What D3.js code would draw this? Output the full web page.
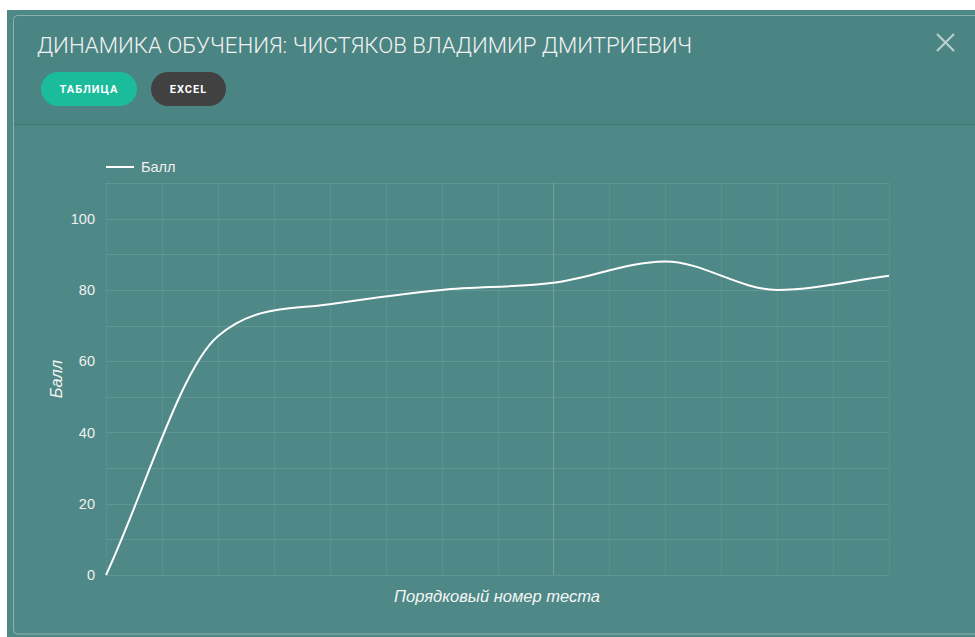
<!DOCTYPE html>
<html>
<head>
<meta charset="utf-8">
<script src="https://cdn.jsdelivr.net/npm/d3@7"></script>
<style>
  html, body { margin: 0; padding: 0; background: #fff; }
  svg { display: block; }
  .tick text { font-family: "Liberation Sans", Arial, sans-serif; }
</style>
</head>
<body>
<div id="chart"></div>
<script>
// data
const title = "ДИНАМИКА ОБУЧЕНИЯ: ЧИСТЯКОВ ВЛАДИМИР ДМИТРИЕВИЧ";
const buttons = ["ТАБЛИЦА", "EXCEL"];
const seriesName = "Балл";
const testNumbers = [1, 2, 3, 4, 5, 6, 7, 8];
const scores = [0, 67, 76, 80, 82, 88, 80, 84];
const yTicks = [0, 20, 40, 60, 80, 100];
const yGrid = [0, 10, 20, 30, 40, 50, 60, 70, 80, 90, 100, 110];
const xTitle = "Порядковый номер теста";
const yTitle = "Балл";
const activeTest = 5; // the column the cursor sits on

const width = 975;
const height = 637;
const margin = { top: 183, right: 86, bottom: 62, left: 106 };

// monotone cubic (Fritsch–Carlson), as the original chart library draws it
function monotonePath(pts) {
  const n = pts.length;
  const delta = [];
  for (let i = 0; i < n - 1; i++) {
    delta.push((pts[i + 1][1] - pts[i][1]) / (pts[i + 1][0] - pts[i][0]));
  }
  const m = pts.map((p, i) => {
    if (i === 0) return delta[0];
    if (i === n - 1) return delta[n - 2];
    if (delta[i - 1] * delta[i] <= 0) return 0;
    return (delta[i - 1] + delta[i]) / 2;
  });
  for (let i = 0; i < n - 1; i++) {
    if (delta[i] === 0) {
      m[i] = m[i + 1] = 0;
      continue;
    }
    const a = m[i] / delta[i];
    const b = m[i + 1] / delta[i];
    const sq = a * a + b * b;
    if (sq <= 9) continue;
    const tau = 3 / Math.sqrt(sq);
    m[i] = a * tau * delta[i];
    m[i + 1] = b * tau * delta[i];
  }
  const path = d3.path();
  path.moveTo(pts[0][0], pts[0][1]);
  for (let i = 1; i < n; i++) {
    const dx = (pts[i][0] - pts[i - 1][0]) / 3;
    path.bezierCurveTo(
      pts[i - 1][0] + dx, pts[i - 1][1] + m[i - 1] * dx,
      pts[i][0] - dx, pts[i][1] - m[i] * dx,
      pts[i][0], pts[i][1]
    );
  }
  return path.toString();
}

const svg = d3
  .select("#chart")
  .append("svg")
  .attr("width", width)
  .attr("height", height)
  .attr("viewBox", [0, 0, width, height]);

// modal panel
svg.append("rect")
  .attr("x", 7).attr("y", 10)
  .attr("width", width - 7).attr("height", height - 10)
  .attr("fill", "#4e8987");
svg.append("rect")
  .attr("x", 13.5).attr("y", 15.5)
  .attr("width", width).attr("height", 108.5)
  .attr("fill", "#4b8583");
svg.append("line")
  .attr("x1", 13.5).attr("x2", width)
  .attr("y1", 124.5).attr("y2", 124.5)
  .attr("stroke", "rgba(0,0,0,0.12)");
svg.append("rect")
  .attr("x", 13.5).attr("y", 15.5)
  .attr("width", width + 10).attr("height", 618.5)
  .attr("rx", 4)
  .attr("fill", "none")
  .attr("stroke", "rgba(255,255,255,0.35)");

svg.append("text")
  .attr("x", 37).attr("y", 53)
  .attr("fill", "#f2f2f2")
  .attr("font-family", "Roboto, sans-serif")
  .attr("font-weight", 300)
  .attr("font-size", 22)
  .attr("textLength", 655)
  .attr("lengthAdjust", "spacingAndGlyphs")
  .text(title);

// buttons
const btn = svg.selectAll(".btn")
  .data(buttons)
  .join("g")
  .attr("class", "btn")
  .attr("transform", (d, i) => `translate(${i === 0 ? 41 : 151},72)`);
btn.append("rect")
  .attr("width", (d, i) => (i === 0 ? 96 : 75))
  .attr("height", 34)
  .attr("rx", 17)
  .attr("fill", (d, i) => (i === 0 ? "#1bbc9b" : "#414141"));
btn.append("text")
  .attr("x", (d, i) => (i === 0 ? 48 : 37.5))
  .attr("y", 21)
  .attr("text-anchor", "middle")
  .attr("fill", "#fff")
  .attr("font-family", "Roboto, sans-serif")
  .attr("font-weight", 700)
  .attr("font-size", 11)
  .attr("letter-spacing", 1)
  .text((d) => d);

// close cross
svg.append("path")
  .attr("d", "M937,34L954,51M954,34L937,51")
  .attr("stroke", "#b7cfcd")
  .attr("stroke-width", 2.2)
  .attr("fill", "none");

// scales
const x = d3.scaleLinear()
  .domain(d3.extent(testNumbers))
  .range([margin.left, width - margin.right]);

const y = d3.scaleLinear()
  .domain([0, 110])
  .range([height - margin.bottom, margin.top]);

const grid = svg.append("g").attr("class", "grid");
grid.selectAll(".hgrid")
  .data(yGrid)
  .join("line")
  .attr("class", "hgrid")
  .attr("x1", x.range()[0]).attr("x2", x.range()[1])
  .attr("y1", (d) => Math.round(y(d)) + 0.5)
  .attr("y2", (d) => Math.round(y(d)) + 0.5)
  .attr("stroke", "rgba(255,255,255,0.1)");
grid.selectAll(".vgrid")
  .data(x.ticks(14))
  .join("line")
  .attr("class", "vgrid")
  .attr("x1", (d) => Math.round(x(d)) + 0.5)
  .attr("x2", (d) => Math.round(x(d)) + 0.5)
  .attr("y1", y(110)).attr("y2", y(0))
  .attr("stroke", (d) =>
    d === activeTest ? "rgba(255,255,255,0.2)" : "rgba(255,255,255,0.07)"
  );

// y axis labels
svg.append("g")
  .attr("transform", `translate(${margin.left - 6},0)`)
  .call(d3.axisLeft(y).tickValues(yTicks).tickSize(0).tickPadding(5))
  .call((g) => g.select(".domain").remove())
  .call((g) =>
    g.selectAll(".tick text")
      .attr("fill", "#f0f0f0")
      .attr("font-size", 14.5)
  );

// line
svg.append("path")
  .attr("d", monotonePath(scores.map((d, i) => [x(testNumbers[i]), y(d)])))
  .attr("fill", "none")
  .attr("stroke", "#fff")
  .attr("stroke-width", 2);

// legend
svg.append("line")
  .attr("x1", 106).attr("x2", 134)
  .attr("y1", 167).attr("y2", 167)
  .attr("stroke", "#fff")
  .attr("stroke-width", 2);
svg.append("text")
  .attr("x", 141).attr("y", 172)
  .attr("fill", "#f0f0f0")
  .attr("font-family", "Liberation Sans, Arial, sans-serif")
  .attr("font-size", 14.5)
  .text(seriesName);

// axis titles
svg.append("text")
  .attr("x", 497)
  .attr("y", 601.5)
  .attr("text-anchor", "middle")
  .attr("fill", "#f5f5f5")
  .attr("font-family", "Liberation Sans, Arial, sans-serif")
  .attr("font-style", "italic")
  .attr("font-size", 16.5)
  .text(xTitle);

svg.append("text")
  .attr("transform", `translate(62,${y(55)}) rotate(-90)`)
  .attr("text-anchor", "middle")
  .attr("fill", "#f5f5f5")
  .attr("font-family", "Liberation Sans, Arial, sans-serif")
  .attr("font-style", "italic")
  .attr("font-size", 16.5)
  .text(yTitle);
</script>
</body>
</html>
